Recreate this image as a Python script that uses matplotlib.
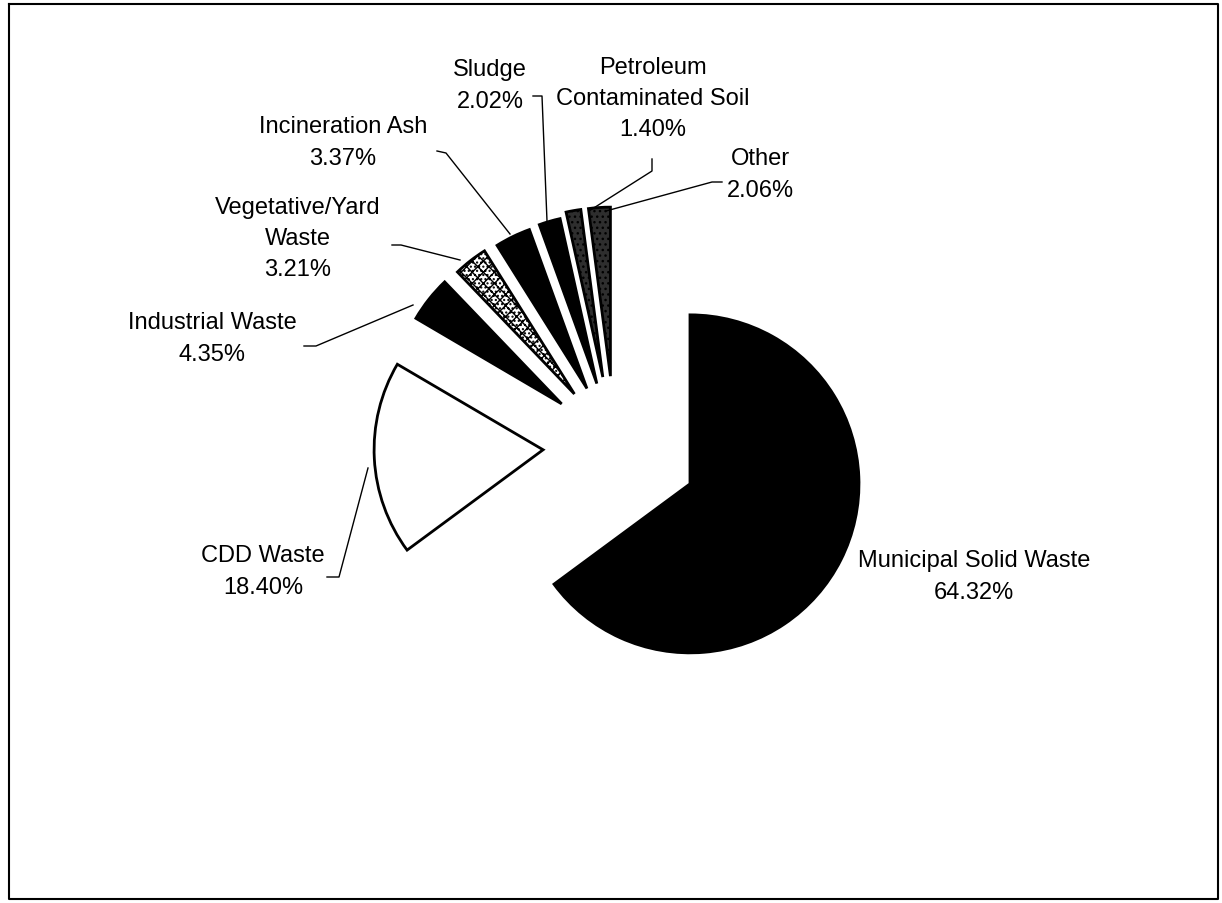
import matplotlib.pyplot as plt
import numpy as np

# waste types and shares (percent)
labels = ["Municipal Solid Waste", "CDD Waste", "Industrial Waste",
          "Vegetative/Yard\nWaste", "Incineration Ash", "Sludge",
          "Petroleum\nContaminated Soil", "Other"]
shares = [64.32, 18.40, 4.35, 3.21, 3.37, 2.02, 1.40, 2.06]

# pixel-like canvas, y going up
W, H = 1222, 904
fig = plt.figure(figsize=(W / 100, H / 100), dpi=100)
ax = fig.add_axes([0, 0, 1, 1])
ax.set_xlim(0, W)
ax.set_ylim(0, H)
ax.set_aspect('equal')
ax.axis('off')

cx, cy = 615, H - 447
explode = [84, 72, 68, 66, 64, 65, 70, 70]
faces = ['black', 'white', 'black', 'white', 'black', 'black', '#2e2e2e', '#2e2e2e']
hatches = [None, None, None, 'xxx....', None, None, '...', '...']

wedges, _ = ax.pie(shares, explode=explode, radius=169, center=(cx, cy),
                   startangle=90, counterclock=False, colors=faces,
                   wedgeprops=dict(edgecolor='black', linewidth=2))
for w, h in zip(wedges, hatches):
    if h:
        w.set_hatch(h)
ax.set_xlim(0, W)
ax.set_ylim(0, H)

# label texts and positions (image coords, centre of text block)
txt = [l + "\n%.2f%%" % s for l, s in zip(labels, shares)]
pos = [(974, 577), (263, 572), (212, 339), (298, 239),
       (343, 143), (490, 86), (653, 99), (760, 175)]
for t, (x, y) in zip(txt, pos):
    ax.text(x, H - y, t, ha='center', va='center', fontsize=17,
            family='Liberation Sans', linespacing=1.55)

# leader lines
leaders = [
    [(327, 578), (339, 578), (368, 469)],
    [(304, 347), (316, 347), (413, 306)],
    [(392, 246), (401, 246), (460, 261)],
    [(437, 152), (446, 154), (510, 235)],
    [(533, 97), (542, 97), (547, 222)],
    [(652, 160), (652, 172), (589, 212)],
    [(722, 183), (712, 183), (606, 212)],
]
for pts in leaders:
    xs = [p[0] for p in pts]
    ys = [H - p[1] for p in pts]
    ax.plot(xs, ys, color='black', lw=1)

# frame
ax.plot([9, 1218, 1218, 9, 9], [H - 5, H - 5, H - 900, H - 900, H - 5],
        color='black', lw=1.5)

fig.savefig('out.png', dpi=100)
